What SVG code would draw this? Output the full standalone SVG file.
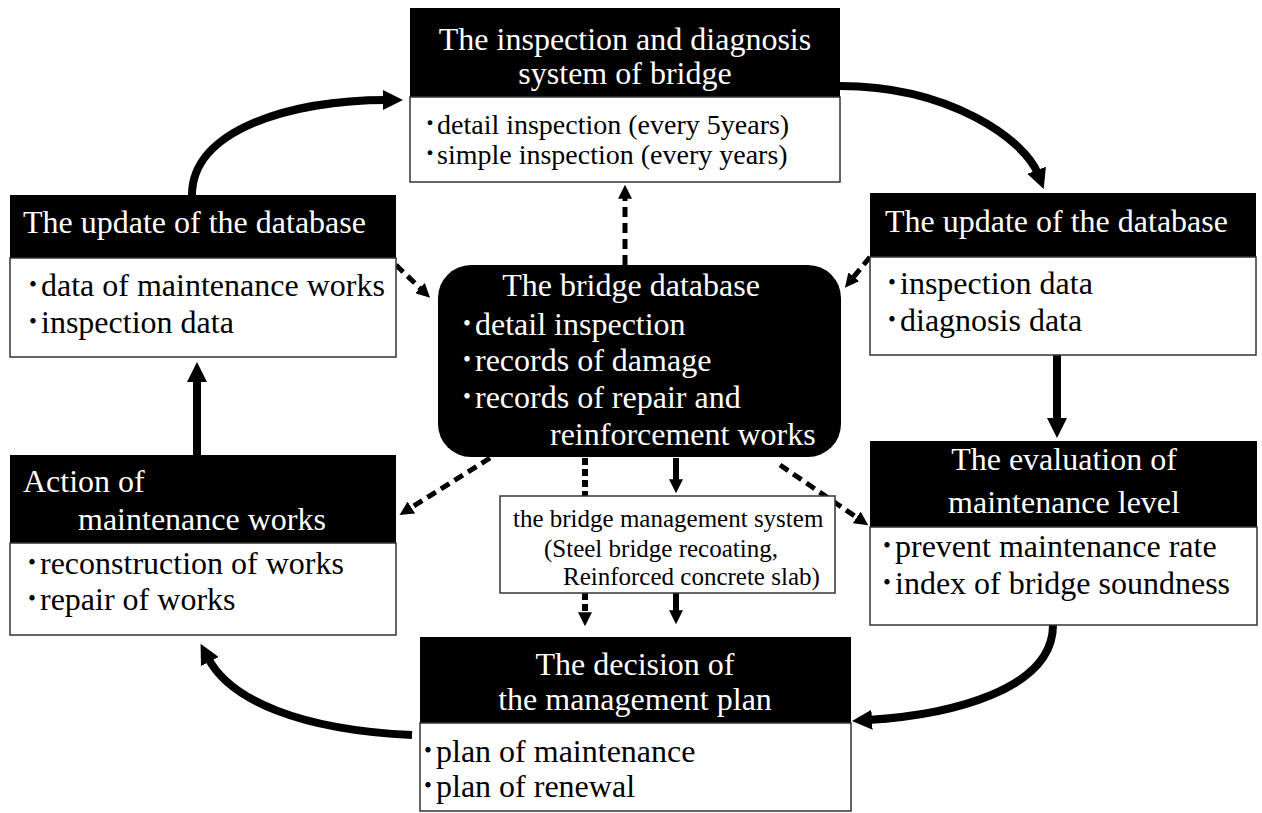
<svg xmlns="http://www.w3.org/2000/svg" width="1262" height="813" viewBox="0 0 1262 813">
<style>
text{font-family:"Liberation Serif","Noto Sans CJK JP",serif;}
.hd{fill:#000;}
.bd{fill:#fff;stroke:#333;stroke-width:1.5;}
.ht{fill:#fff;font-size:32px;}
.bt{fill:#000;font-size:32px;}
.st{fill:#000;font-size:28px;}
.mt{fill:#000;font-size:25px;}
.wt{fill:#fff;font-size:32px;}
.c{text-anchor:middle;}
.thick{fill:none;stroke:#000;stroke-width:8;}
.dash{fill:none;stroke:#000;stroke-width:5;stroke-dasharray:10 6;}
.dot{fill:none;stroke:#000;stroke-width:6;stroke-dasharray:7 4;}
.mid{fill:none;stroke:#000;stroke-width:6;}
</style>
<defs>
<marker id="ah" viewBox="0 0 10 10" refX="2" refY="5" markerWidth="20" markerHeight="20" markerUnits="userSpaceOnUse" orient="auto"><path d="M0,0 L10,5 L0,10 z" fill="#000"/></marker>
<marker id="ad" viewBox="0 0 10 10" refX="2" refY="5" markerWidth="14" markerHeight="14" markerUnits="userSpaceOnUse" orient="auto"><path d="M0,0 L10,5 L0,10 z" fill="#000"/></marker>
</defs>

<g id="connectors">
<path class="thick" d="M192,195 C192,130 290,100 387,100" marker-end="url(#ah)"/>
<path class="thick" d="M840,86 C950,86 1025,140 1038,174" marker-end="url(#ah)"/>
<path class="thick" d="M1057,355 L1057,422" marker-end="url(#ah)"/>
<path class="thick" d="M1053,625 C1053,690 950,715 868,720" marker-end="url(#ah)"/>
<path class="thick" d="M412,735 C300,730 230,700 208,658" marker-end="url(#ah)"/>
<path class="thick" d="M197,455 L197,378" marker-end="url(#ah)"/>
<path class="dash" d="M396,265 L422,290" marker-end="url(#ad)"/>
<path class="dash" d="M870,257 L852,279" marker-end="url(#ad)"/>
<path class="dash" d="M625,265 L625,196" marker-end="url(#ad)"/>
<path class="dash" d="M490,458 L409,509" marker-end="url(#ad)"/>
<path class="dash" d="M780,465 L859,519" marker-end="url(#ad)"/>
<path class="dot" d="M585,458 L585,496"/>
<path class="dot" d="M585,593 L585,615" marker-end="url(#ad)"/>
<path class="mid" d="M676,458 L676,482" marker-end="url(#ad)"/>
<path class="mid" d="M676,593 L676,613" marker-end="url(#ad)"/>
</g>

<g id="inspection">
<rect class="hd" x="410" y="8" width="430" height="89"/>
<rect class="bd" x="410" y="97" width="430" height="85"/>
<text class="ht c" x="625" y="50">The inspection and diagnosis</text>
<text class="ht c" x="625" y="84">system of bridge</text>
<text class="st" y="134"><tspan x="423">･</tspan><tspan x="437">detail inspection (every 5years)</tspan></text>
<text class="st" y="164"><tspan x="423">･</tspan><tspan x="437">simple inspection (every years)</tspan></text>
</g>

<g id="update-left">
<rect class="hd" x="10" y="195" width="386" height="63"/>
<rect class="bd" x="10" y="258" width="386" height="99"/>
<text class="ht" x="23" y="233">The update of the database</text>
<text class="bt" y="296"><tspan x="25">･</tspan><tspan x="41">data of maintenance works</tspan></text>
<text class="bt" y="333"><tspan x="25">･</tspan><tspan x="41">inspection data</tspan></text>
</g>

<g id="update-right">
<rect class="hd" x="870" y="193" width="386" height="64"/>
<rect class="bd" x="870" y="257" width="386" height="98"/>
<text class="ht" x="885" y="232">The update of the database</text>
<text class="bt" y="294"><tspan x="884">･</tspan><tspan x="900">inspection data</tspan></text>
<text class="bt" y="331"><tspan x="884">･</tspan><tspan x="900">diagnosis data</tspan></text>
</g>

<g id="database">
<rect x="438" y="265" width="403" height="192" rx="33" ry="33" fill="#000"/>
<text class="wt c" x="631" y="296">The bridge database</text>
<text class="wt" y="335"><tspan x="459">･</tspan><tspan x="475">detail inspection</tspan></text>
<text class="wt" y="371"><tspan x="459">･</tspan><tspan x="475">records of damage</tspan></text>
<text class="wt" y="408"><tspan x="459">･</tspan><tspan x="475">records of repair and</tspan></text>
<text class="wt" x="550" y="445">reinforcement works</text>
</g>

<g id="action">
<rect class="hd" x="10" y="455" width="386" height="88"/>
<rect class="bd" x="10" y="543" width="386" height="92"/>
<text class="ht" x="23" y="492">Action of</text>
<text class="ht" x="78" y="530">maintenance works</text>
<text class="bt" y="574"><tspan x="24">･</tspan><tspan x="40">reconstruction of works</tspan></text>
<text class="bt" y="610"><tspan x="24">･</tspan><tspan x="40">repair of works</tspan></text>
</g>

<g id="evaluation">
<rect class="hd" x="870" y="441" width="387" height="86"/>
<rect class="bd" x="870" y="527" width="387" height="98"/>
<text class="ht c" x="1064" y="470">The evaluation of</text>
<text class="ht c" x="1064" y="513">maintenance level</text>
<text class="bt" y="557"><tspan x="879">･</tspan><tspan x="895">prevent maintenance rate</tspan></text>
<text class="bt" y="594"><tspan x="879">･</tspan><tspan x="895">index of bridge soundness</tspan></text>
</g>

<g id="bms">
<rect class="bd" x="500" y="496" width="335" height="97"/>
<text class="mt" x="513" y="527">the bridge management system</text>
<text class="mt" x="544" y="557">(Steel bridge recoating,</text>
<text class="mt" x="563" y="585">Reinforced concrete slab)</text>
</g>

<g id="decision">
<rect class="hd" x="420" y="637" width="431" height="86"/>
<rect class="bd" x="420" y="723" width="431" height="88"/>
<text class="ht c" x="635" y="675">The decision of</text>
<text class="ht c" x="635" y="710">the management plan</text>
<text class="bt" y="762"><tspan x="420">･</tspan><tspan x="436">plan of maintenance</tspan></text>
<text class="bt" y="797"><tspan x="420">･</tspan><tspan x="436">plan of renewal</tspan></text>
</g>
</svg>
